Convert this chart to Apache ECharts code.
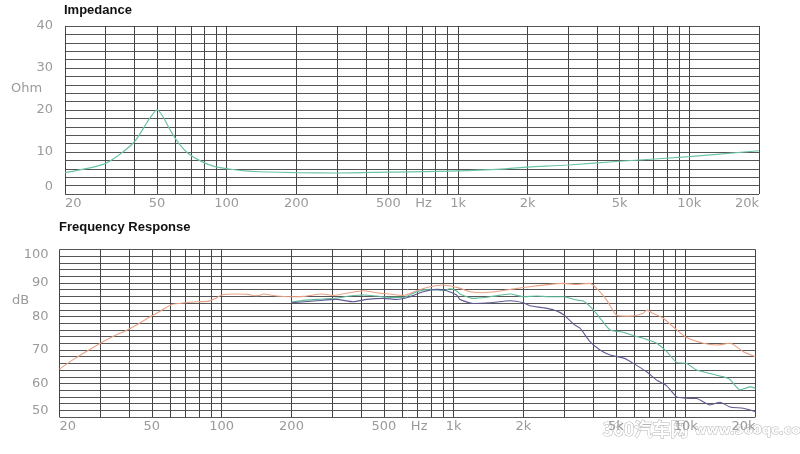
<!DOCTYPE html>
<html><head><meta charset="utf-8">
<script src="https://cdn.jsdelivr.net/npm/echarts@6/dist/echarts.min.js"></script>
<style>html,body{margin:0;padding:0;background:#fff}#c{width:800px;height:454px}</style>
</head><body><div id="c"></div>
<script>
// ---- grid / tick definitions ----
const gridFreqs = [20,30,40,50,60,70,80,90,100,200,300,400,500,600,700,800,900,1000,2000,3000,4000,5000,6000,7000,8000,9000,10000,20000];
const freqLabelValues = [20,50,100,200,500,710,1000,2000,5000,10000,20000];
const freqLabelTexts = ['20','50','100','200','500','Hz','1k','2k','5k','10k','20k'];
const impLabelValues = [0,10,20,30,40];
const splLabelValues = [50,60,70,80,90,100];

// ---- Impedance ----
const impFreq = [20,25,30,35,40,44,47,50,52.5,57,62,68,78,89,104,120,140,200,300,500,1000,1600,2000,3000,5000,10000,20000];
const impOhm  = [5.1,6.1,7.3,9.7,12.5,16.0,18.4,20.0,18.8,15.2,12.1,9.7,7.7,6.5,5.9,5.5,5.3,5.1,5.0,5.2,5.5,6.0,6.4,6.9,7.8,8.9,10.3];

// ---- Frequency response ----
const frFreqA = [20,23,30,34,40,45,50,55,61,70,79,88,94,100,114,130,139,146,151,173,197,225,270,303,357,408,466,532,607,693,791,902,1030,1065,1176,1342,1584,1870,2134,2602,2970,3392,3870,4204,4568,5044,5754,6570,6792,7252,8010,9148,10100,11914,13610,15530,17720,20000];
const frA = [64.3,67.2,72.0,74.0,76.3,78.3,80.2,81.8,83.6,84.1,84.4,84.6,85.4,86.4,86.7,86.6,86.2,86.3,86.7,86.1,85.9,86.0,86.7,86.3,87.1,87.7,87.1,86.7,86.3,87.7,88.9,89.4,88.7,88.4,87.4,87.1,87.6,88.4,88.9,89.6,89.9,89.6,89.9,87.9,84.9,80.4,80.1,81.0,81.9,80.9,79.5,76.0,73.7,72.0,71.5,72.0,69.5,68.0];

const frFreqB = [200,229,257,313,357,408,466,532,607,693,791,902,964,1030,1065,1215,1434,1750,1996,2280,2602,2970,3392,3620,4000,4346,4720,5386,5948,6570,7500,8284,9148,10100,11160,12740,14530,15530,17150,18940,20000];
const frB = [84.3,84.9,85.1,85.5,86.1,86.4,86.1,85.7,85.7,87.4,88.1,87.7,88.3,87.6,86.7,85.4,85.9,86.7,85.9,86.1,85.9,85.9,84.9,84.6,82.0,78.9,76.0,75.3,74.3,73.5,72.0,69.5,66.3,66.0,64.0,63.0,62.0,61.2,58.1,59.0,58.6];

const frFreqC = [200,257,313,369,422,497,568,648,740,845,933,1030,1065,1215,1434,1750,1996,2134,2434,2688,2970,3278,3504,3870,4274,4720,5450,5948,6792,7500,8284,9148,10100,11160,12740,14060,15530,17720,20000];
const frC = [84.1,84.7,85.1,84.4,85.1,85.4,85.1,85.9,87.4,88.1,87.7,86.4,85.1,83.9,84.1,84.7,84.1,83.2,82.6,82.0,80.6,77.8,76.5,72.5,70.0,68.5,67.5,66.0,63.5,61.0,59.3,56.0,55.6,55.5,53.6,54.4,53.0,52.6,51.6];

const pairs = (xs, ys) => xs.map((x, i) => [x, ys[i]]);
const labelColor = '#9a9a9a';
const fontFam = 'DejaVu Sans';

function freqLabel(v) {
  let best = 0, bd = 1e9;
  freqLabelValues.forEach((f, i) => { const d = Math.abs(Math.log10(f) - Math.log10(v)); if (d < bd) { bd = d; best = i; } });
  return freqLabelTexts[best];
}

function xAxisCfg(gi) {
  return {
    type: 'log', logBase: 10, gridIndex: gi, min: 20, max: 20000,
    axisLine: { show: false },
    axisTick: { show: false, customValues: gridFreqs },
    splitLine: { show: true, lineStyle: { color: '#444', width: 1 } },
    axisLabel: {
      customValues: freqLabelValues, formatter: freqLabel,
      color: labelColor, fontSize: 13, fontFamily: fontFam, margin: 3,
      showMinLabel: true, showMaxLabel: true, alignMinLabel: 'left', alignMaxLabel: 'right'
    }
  };
}

const chart = echarts.init(document.getElementById('c'), null, { renderer: 'canvas' });
chart.setOption({
  animation: false,
  backgroundColor: '#fff',
  title: [
    { text: 'Impedance', left: 64, top: 4, padding: 0, textStyle: { fontFamily: 'Liberation Sans', fontWeight: 'bold', fontSize: 13, color: '#111' } },
    { text: 'Frequency Response', left: 59, top: 221, padding: 0, textStyle: { fontFamily: 'Liberation Sans', fontWeight: 'bold', fontSize: 13, color: '#111' } },
    { text: 'Ohm', left: 11, top: 82, padding: 0, textStyle: { fontFamily: fontFam, fontWeight: 'normal', fontSize: 13, color: labelColor } },
    { text: 'dB', left: 12, top: 294, padding: 0, textStyle: { fontFamily: fontFam, fontWeight: 'normal', fontSize: 13, color: labelColor } }
  ],
  grid: [
    { left: 65, right: 41, top: 26, height: 168, containLabel: false },
    { left: 59.5, right: 44.5, top: 249.5, height: 167.5, containLabel: false }
  ],
  xAxis: [xAxisCfg(0), xAxisCfg(1)],
  yAxis: [
    {
      type: 'value', gridIndex: 0, min: 0, max: 40, interval: 2,
      axisLine: { show: false }, axisTick: { show: false },
      splitLine: { show: true, lineStyle: { color: '#555', width: 1 } },
      axisLabel: {
        customValues: impLabelValues, color: labelColor, fontSize: 13, fontFamily: fontFam, margin: 12,
        formatter: v => (v === 0 ? '{up|0}' : String(v)),
        rich: { up: { padding: [0, 0, 14, 0], color: labelColor, fontSize: 13, fontFamily: fontFam } }
      }
    },
    {
      type: 'value', gridIndex: 1, min: 50, max: 100, interval: 2,
      axisLine: { show: false }, axisTick: { show: false },
      splitLine: { show: true, lineStyle: { color: '#555', width: 1 } },
      axisLabel: {
        customValues: splLabelValues, color: labelColor, fontSize: 13, fontFamily: fontFam, margin: 11,
        formatter: v => (v === 100 ? '{dn|100}' : v === 50 ? '{up|50}' : String(v)),
        rich: {
          dn: { padding: [10, 0, 0, 0], color: labelColor, fontSize: 13, fontFamily: fontFam },
          up: { padding: [0, 0, 12, 0], color: labelColor, fontSize: 13, fontFamily: fontFam }
        }
      }
    }
  ],
  series: [
    { name: 'Impedance', type: 'line', xAxisIndex: 0, yAxisIndex: 0, data: pairs(impFreq, impOhm), smooth: 0.3, showSymbol: false, lineStyle: { color: '#6cc4a6', width: 1.2 } },
    { name: 'A', type: 'line', xAxisIndex: 1, yAxisIndex: 1, data: pairs(frFreqA, frA), smooth: 0.2, showSymbol: false, lineStyle: { color: '#e9a184', width: 1.1 } },
    { name: 'B', type: 'line', xAxisIndex: 1, yAxisIndex: 1, data: pairs(frFreqB, frB), smooth: 0.2, showSymbol: false, lineStyle: { color: '#5fbb98', width: 1.1 } },
    { name: 'C', type: 'line', xAxisIndex: 1, yAxisIndex: 1, data: pairs(frFreqC, frC), smooth: 0.2, showSymbol: false, lineStyle: { color: '#5d5a94', width: 1.1 } }
  ],
  graphic: [
    { type: 'text', left: 602, top: 420, style: { text: '360汽车网', font: 'bold 18px "Noto Sans CJK SC"', fill: '#fff', stroke: '#b5b5b5', lineWidth: 1 } },
    { type: 'text', left: 694, top: 424, style: { text: 'www.360qc.com', font: 'bold 13px "DejaVu Sans"', fill: '#fff', stroke: '#b5b5b5', lineWidth: 1 } }
  ]
});
</script>
</body></html>
